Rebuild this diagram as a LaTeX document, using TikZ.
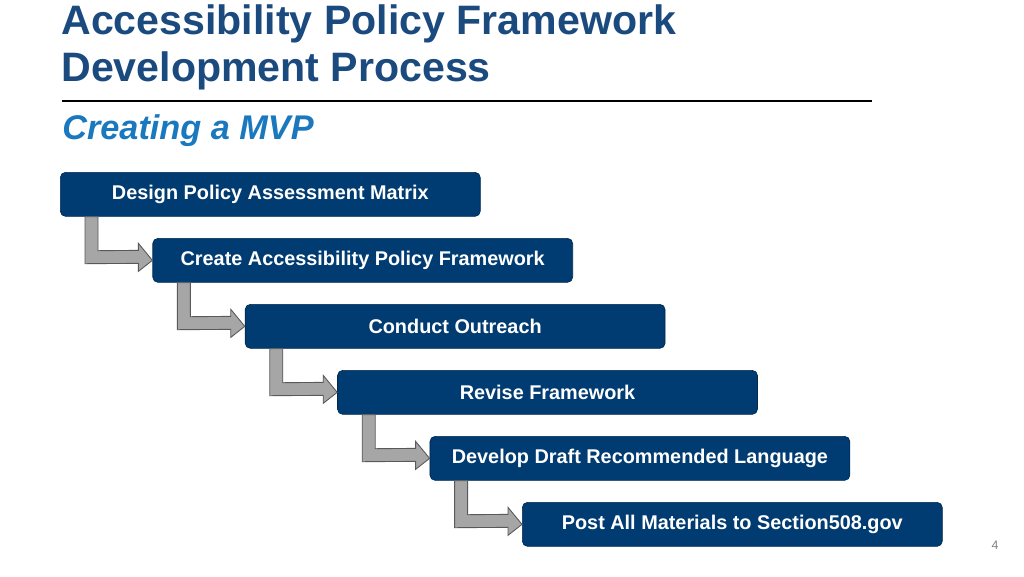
\documentclass[tikz,border=0pt]{standalone}
\usepackage{fontspec}
\setmainfont{Liberation Sans}
\usetikzlibrary{calc, positioning}
\definecolor{boxblue}{HTML}{003B71}
\definecolor{titleblue}{HTML}{1B4A7E}
\definecolor{subblue}{HTML}{1A78BE}
\definecolor{arrowgray}{HTML}{A6A6A6}
\tikzset{
  stepbox/.style={draw=boxblue!70!black, fill=boxblue, rounded corners=3pt, text=white,
    font=\fontsize{11.3}{13}\selectfont\bfseries, minimum width=8.4cm, minimum height=0.88cm,
    anchor=north west, inner sep=0pt},
  bentarrow/.style={draw=gray!70!black, fill=arrowgray, line width=0.5pt}
}
\begin{document}
\begin{tikzpicture}[x=0.02cm, y=-0.02cm]
  \useasboundingbox (0,0) rectangle (1024,576);
  % Title
  \node[anchor=north west, align=left, text=titleblue, font=\fontsize{23.4}{27}\selectfont\bfseries,
        inner sep=0pt] (title) at (61,4) {Accessibility Policy Framework\\Development Process};
  \draw[line width=1.2pt] (62,101) -- (872,101);
  \node[anchor=west, text=subblue, font=\fontsize{19.5}{22}\selectfont\bfseries\itshape, inner sep=0pt]
        (sub) at (62,131) {Creating a MVP};
  % Steps
  \foreach \i/\txt [count=\n from 0] in {1/Design Policy Assessment Matrix/Criteria,
      2/Create Accessibility Policy Framework, 3/Conduct Outreach, 4/Revise Framework,
      5/Develop Draft Recommended Language, 6/Post All Materials to Section508.gov}
    \node[stepbox] (b\i) at ({60+92.4*\n},{172+66*\n}) {\txt};
  % Bent arrows
  \foreach \i [evaluate=\i as \j using int(\i+1)] in {1,...,5}
    \draw[bentarrow] ($(b\i.south west)+(25,0)$) -- ($(b\i.south west)+(25,47)$)
      -- ($(b\j.west)+(-14,3)$) -- ($(b\j.west)+(-14,11)$) -- (b\j.west)
      -- ($(b\j.west)+(-14,-17)$) -- ($(b\j.west)+(-14,-10)$)
      -- ($(b\i.south west)+(38,34)$) -- ($(b\i.south west)+(38,0)$) -- cycle;
  % Page number
  \node[text=gray, font=\fontsize{7}{8}\selectfont] (pg) at (995,545) {4};
\end{tikzpicture}
\end{document}
